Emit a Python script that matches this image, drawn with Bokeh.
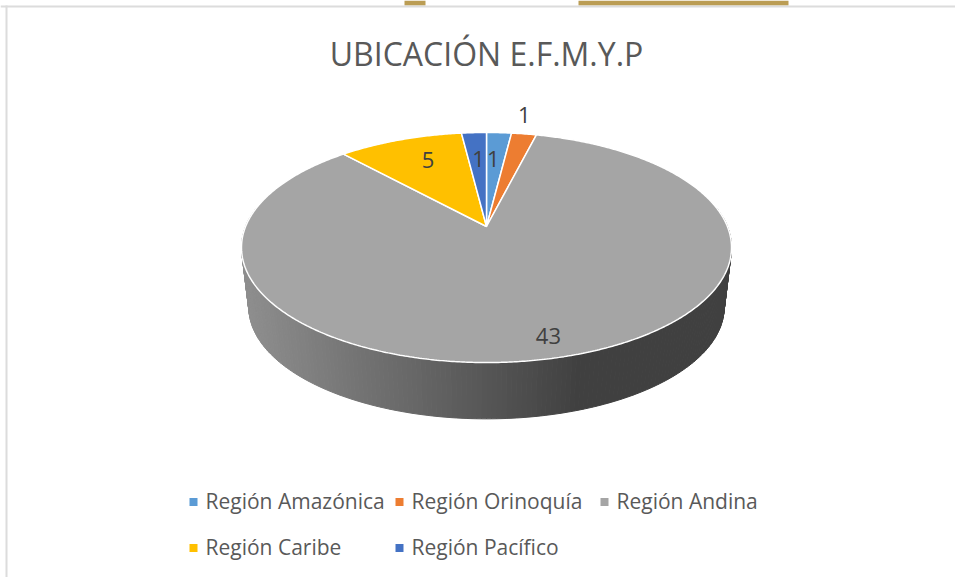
import numpy as np
from bokeh.embed import file_html
from bokeh.resources import INLINE
from bokeh.plotting import figure
from bokeh.core.properties import value

title = "UBICACIÓN E.F.M.Y.P"
regions = ["Región Amazónica", "Región Orinoquía", "Región Andina", "Región Caribe", "Región Pacífico"]
counts = [1, 1, 43, 5, 1]
colors = ["#5b9bd5", "#ed7d31", "#a5a5a5", "#ffc000", "#4472c4"]

# layout of labels (fraction of radius, pixel nudge) and legend
label_r = [0.67, 1.24, 0.864, 0.73, 0.67]
label_dx = [-2, -7, 2, 7, 1]
legend_x = [193, 399, 604, 193, 399]
legend_y = [500.5, 500.5, 500.5, 546.5, 546.5]

FONT = "Open Sans"
CX, CY, A, B, K = 486.0, 226.0, 240.9, 111.2, 0.1826
DEPTH, SHRINK = 60.4, 0.97


def project(theta_deg, r=1.0, s=1.0, dy=0.0):
    t = np.radians(theta_deg)
    u, v = r * np.sin(t), r * np.cos(t)
    w = 1 + K * v
    return CX + s * A * u / w, CY + dy - s * B * v / w


p = figure(width=955, height=577, x_range=(0, 955), y_range=(577, 0),
           output_backend="svg", toolbar_location=None, min_border=0,
           background_fill_color="white",
           border_fill_color="white", outline_line_color=None)
p.axis.visible = False
p.grid.visible = False

# page furniture
p.quad(left=[404, 578], right=[425, 788], top=[0, 0], bottom=[5, 5], fill_color="#bb9d54", line_color=None)
p.quad(left=[0, 5], right=[955, 7], top=[5, 5], bottom=[7, 577], fill_color="#dcdcdc", line_color=None)

# side wall
angles = np.arange(80.0, 281.0, 1.0)
xs, ys, cols = [], [], []
for a0, a1 in zip(angles[:-1], angles[1:]):
    x0, y0 = project(a0)
    x1, y1 = project(a1)
    x2, y2 = project(a1, s=SHRINK, dy=DEPTH)
    x3, y3 = project(a0, s=SHRINK, dy=DEPTH)
    xs.append([x0, x1, x2, x3])
    ys.append([y0, y1, y2, y3])
    f = min(max((0.5 * (x0 + x1) - 243) / (580 - 243), 0), 1)
    g = int(round(0x8e + f * (0x40 - 0x8e)))
    cols.append(f"#{g:02x}{g:02x}{g:02x}")
p.patches(xs, ys, fill_color=cols, line_color=cols, line_width=1)

# top wedges
total = sum(counts)
edges = np.cumsum([0] + counts) / total * 360.0
mids = []
for i, c in enumerate(colors):
    th = np.linspace(edges[i], edges[i + 1], max(int(edges[i + 1] - edges[i]) * 2, 6))
    rx, ry = project(th)
    p.patch(np.r_[CX, rx], np.r_[CY, ry], fill_color=c, line_color="white", line_width=1.5)
    mids.append(0.5 * (edges[i] + edges[i + 1]))

# data labels
for i in range(len(counts)):
    lx, ly = project(mids[i], r=label_r[i])
    p.text([lx + label_dx[i]], [ly - 1], text=[str(counts[i])], text_font=value(FONT), text_font_size="22px",
           text_color="#404040", text_align="center", text_baseline="middle")

# title
p.text([486], [53], text=[title], text_font=value(FONT), text_font_size="32px",
       text_color="#595959", text_align="center", text_baseline="middle")

# legend
p.scatter(legend_x, [y + 1 for y in legend_y], marker="square", size=8, fill_color=colors, line_color=None)
p.text([x + 12 for x in legend_x], legend_y, text=regions, text_font=value(FONT), text_font_size="21px",
       text_color="#595959", text_align="left", text_baseline="middle")

open("out.html", "w").write(file_html(p, INLINE))
